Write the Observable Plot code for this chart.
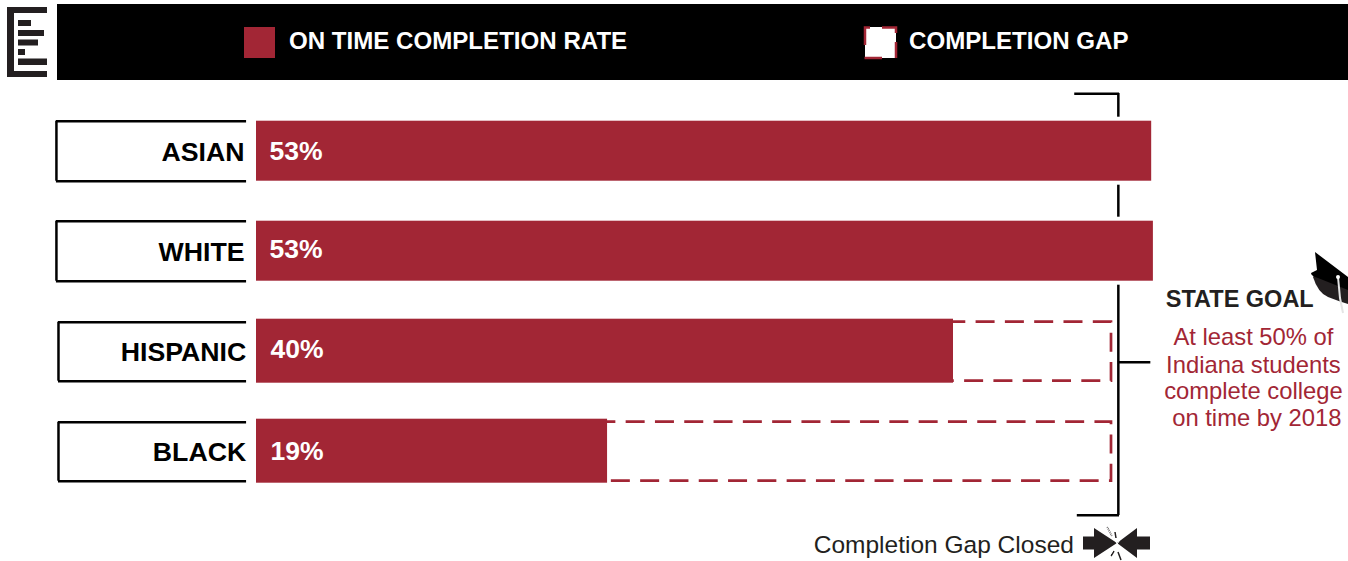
<!DOCTYPE html>
<html>
<head>
<meta charset="utf-8">
<script src="https://cdn.jsdelivr.net/npm/d3@7"></script>
<script src="https://cdn.jsdelivr.net/npm/@observablehq/plot@0.6"></script>
<style>
html,body{margin:0;padding:0;background:#fff;overflow:hidden}
body{width:1348px;height:561px;position:relative;font-family:"Liberation Sans",Arial,sans-serif}
#head{position:absolute;left:57px;top:4px;width:1291px;height:76px;background:#000}
.lg{position:absolute;top:23px;color:#fff;font-weight:bold;font-size:24.1px;line-height:28px;white-space:nowrap}
.sw{position:absolute;top:23px;width:31px;height:31px;box-sizing:border-box}
#chart{position:absolute;left:0;top:80px}
svg.deco{position:absolute;left:0;top:0;pointer-events:none}
</style>
</head>
<body>
<div id="head">
  <div class="sw" style="left:187px;background:#a22635"></div>
  <div class="lg" style="left:232px">ON TIME COMPLETION RATE</div>
  <div class="sw" style="left:808px;background:#fff"></div>
  <div class="lg" style="left:852px">COMPLETION GAP</div>
</div>
<div id="chart"></div>
<svg class="deco" width="1348" height="561" viewBox="0 0 1348 561">
  <path d="M865 45V27.500H870M882 27.500H896V33M896 42V58M882 58H864.500" fill="none" stroke="#a22635" stroke-width="2.500"/>
  <g fill="#231f20">
    <path d="M7 7H47V13H14V71H47V77H7Z"/>
    <rect x="18" y="20" width="13" height="6"/>
    <rect x="18" y="30" width="26" height="6"/>
    <rect x="18" y="39.500" width="20" height="6"/>
    <rect x="18" y="49" width="7" height="6"/>
    <rect x="18" y="58.500" width="29" height="6.500"/>
    <path d="M1083 536.500H1094V528L1117 543L1094 558V549.500H1083Z"/>
    <path d="M1150 536.500H1137V528L1117 543L1137 558V549.500H1150Z"/>
    <path d="M1313 277Q1318 293 1328 297Q1338 301 1348 304V288L1316 272Z"/>
  </g>
  <path d="M1107 527L1112 536M1115 532L1116 538M1114 551L1111 556M1118 552L1121 560" stroke="#231f20" stroke-width="1.500" fill="none"/>
  <path d="M1106 526L1128 561M1128 527L1107 560" stroke="#fff" stroke-width="1" fill="none"/>
  <path d="M1315 252L1348 277V290L1318 278Q1311 276 1311 273L1317 270Z" fill="#000"/>
  <path d="M1338 277L1340 298L1343 313" stroke="#e4e4e4" stroke-width="2" fill="none"/>
  <circle cx="1338" cy="277" r="2" fill="#fff"/>
</svg>
<script>
const categories = ["ASIAN", "WHITE", "HISPANIC", "BLACK"];
const labels = ["53%", "53%", "40%", "19%"];
const barLengths = [52.35, 52.45, 40.76, 20.53];
const goal = 50;
const goalLines = ["At least 50% of", "Indiana students", "complete college", "on time by 2018"];
const goalLineOffsets = [-13.5, 14, 40.5, 67];
const labelOffsets = [0.5, -1.5, -1.5, 0.5];
const dashOffsets = [5, 9];

const red = "#a22635", ink = "#000", dark = "#231f20";
const rows = categories.map((name, i) => ({name, label: labels[i], value: barLengths[i]}));
const tall = rows.filter(d => d.value < goal), short = rows.filter(d => d.value >= goal);
const left = d => tall.includes(d) ? -11.58 : -11.7;
const txt = {fontFamily: "'Liberation Sans', Arial, sans-serif"};

const chart = Plot.plot({
  width: 1348, height: 481,
  marginTop: 13, marginBottom: 46, marginLeft: 0, marginRight: 0,
  style: {background: "transparent", overflow: "visible"},
  x: {type: "linear", domain: [0, goal], range: [256, 1111], axis: null},
  y: {type: "band", domain: categories, range: [20.7, 420.7], paddingInner: 0.36, paddingOuter: 0.18, align: 0.5, round: false, axis: null},
  marks: [
    // goal bracket spans the frame and is interrupted by the bars
    Plot.ruleX([goal + 0.4], {x: d => d, stroke: ink, strokeWidth: 2.5}),
    Plot.ruleY(["ASIAN"], {y: d => d, x1: 47.85, x2: goal + 0.47, dy: -57.5, stroke: ink, strokeWidth: 2.5}),
    Plot.ruleY(["BLACK"], {y: d => d, x1: 48, x2: goal + 0.47, dy: 64, stroke: ink, strokeWidth: 2.5}),
    Plot.ruleY(["HISPANIC"], {y: d => d, x1: goal + 0.4, x2: 52.3, dy: 11, stroke: ink, strokeWidth: 2.5}),
    // white knock-outs that make the gaps in the bracket
    Plot.barX(short, {x1: 48, x2: "value", y: "name", fill: "#fff", insetTop: -2, insetBottom: -2}),
    // completion gap
    ...tall.map((row, i) => Plot.barX([row], {x1: d => d.value - 0.1, x2: goal, y: "name", fill: "none", stroke: red, strokeWidth: 2.7,
      strokeDasharray: "19 10.3", strokeDashoffset: dashOffsets[i], insetTop: 3, insetBottom: 2})),
    // rate bars
    Plot.barX(short, {x1: 0, x2: "value", y: "name", fill: red, insetTop: 2, insetBottom: 2}),
    Plot.barX(tall, {x1: 0, x2: "value", y: "name", fill: red}),
    // open label boxes
    Plot.ruleY(short, {y: "name", x1: left, x2: -0.58, dy: -30, stroke: ink, strokeWidth: 2.5}),
    Plot.ruleY(short, {y: "name", x1: left, x2: -0.58, dy: 30, stroke: ink, strokeWidth: 2.5}),
    Plot.ruleY(tall, {y: "name", x1: left, x2: -0.58, dy: -29, stroke: ink, strokeWidth: 2.5}),
    Plot.ruleY(tall, {y: "name", x1: left, x2: -0.58, dy: 30, stroke: ink, strokeWidth: 2.5}),
    Plot.tickX(short, {x: left, y: "name", stroke: ink, strokeWidth: 2.5, insetTop: 2, insetBottom: 2}),
    Plot.tickX(tall, {x: left, y: "name", stroke: ink, strokeWidth: 2.5, insetTop: 3, insetBottom: 2}),
    // texts
    Plot.text(short, {x: -0.7, y: "name", text: "name", textAnchor: "end", dy: 1.5, fill: ink, fontWeight: "bold", fontSize: 26.7, ...txt}),
    Plot.text(tall, {x: -0.6, y: "name", text: "name", textAnchor: "end", dy: 1.5, fill: ink, fontWeight: "bold", fontSize: 26.7, ...txt}),
    ...rows.map((row, i) => Plot.text([row], {x: d => tall.includes(d) ? 0.82 : 0.76, y: "name", text: "label", textAnchor: "start", dy: labelOffsets[i], fill: "#fff", fontWeight: "bold", fontSize: 26.5, ...txt})),
    Plot.text(["STATE GOAL"], {x: 57.5, y: () => "HISPANIC", text: d => d, dy: -52, fill: dark, fontWeight: "bold", fontSize: 23.5, ...txt}),
    ...goalLines.map((line, i) => Plot.text([line], {x: i === 3 ? 58.5 : 58.3, y: () => "HISPANIC", text: d => d, dy: goalLineOffsets[i], fill: red, fontSize: 23.8, ...txt})),
    Plot.text(["Completion Gap Closed"], {x: 47.8, y: () => "BLACK", text: d => d, textAnchor: "end", dy: 94, fill: dark, fontSize: 24.5, ...txt})
  ]
});
document.getElementById("chart").appendChild(chart);
</script>
</body>
</html>
